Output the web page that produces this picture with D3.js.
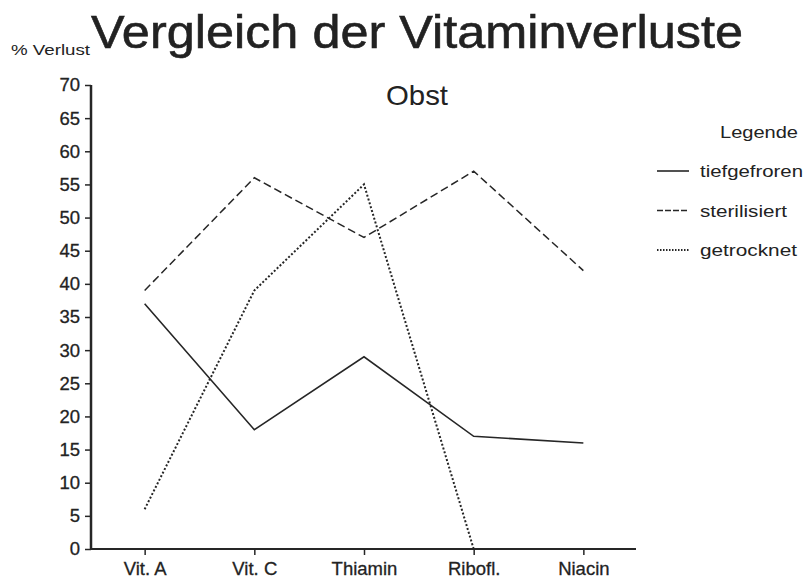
<!DOCTYPE html>
<html><head><meta charset="utf-8">
<script src="https://cdn.jsdelivr.net/npm/d3@7"></script>
<style>body{margin:0;background:#fff}svg{display:block}text{font-family:"Liberation Sans",Arial,sans-serif;fill:#222}</style>
</head><body>
<svg id="c" width="806" height="580"></svg>
<script>
const categories = ["Vit. A","Vit. C","Thiamin","Ribofl.","Niacin"];
const tiefgefroren = [37,18,29,17,16];
const sterilisiert = [39,56,47,57,42];
const getrocknet = [6,39,55,0,null];
const yTicks = [0,5,10,15,20,25,30,35,40,45,50,55,60,65,70];
const seriesNames = ["tiefgefroren","sterilisiert","getrocknet"];

const svg = d3.select("#c");
const ink = "#262626";
const FONT = "Liberation Sans, Arial, sans-serif";
const x = d3.scalePoint().domain(categories).range([92,636]).padding(0.48);
const y = d3.scaleLinear().domain([0,70]).range([549,85]);

svg.append("text").attr("x",11).attr("y",55).attr("font-size",14).attr("textLength",79).attr("lengthAdjust","spacingAndGlyphs").text("% Verlust");
svg.append("text").attr("x",91).attr("y",48).attr("font-size",47).attr("fill","#3a3a3a").attr("stroke","#222").attr("stroke-width",0.6)
  .attr("textLength",652).attr("lengthAdjust","spacingAndGlyphs").text("Vergleich der Vitaminverluste");
svg.append("text").attr("x",386).attr("y",105).attr("font-size",28).attr("textLength",62).attr("lengthAdjust","spacingAndGlyphs").text("Obst");

const yAxis = svg.append("g").attr("transform","translate(91,0)")
  .call(d3.axisLeft(y).tickValues(yTicks).tickSize(6).tickPadding(5));
yAxis.select(".domain").attr("stroke",ink).attr("stroke-width",2.5).attr("d","M0,85V549");
yAxis.selectAll(".tick line").attr("stroke",ink).attr("stroke-width",1.5);
yAxis.selectAll(".tick text").attr("font-size",18.5).attr("font-family",FONT).attr("fill",ink).attr("stroke",ink).attr("stroke-width",0.3);

const xAxis = svg.append("g").attr("transform","translate(0,549)")
  .call(d3.axisBottom(x).tickSize(6).tickPadding(7));
xAxis.select(".domain").attr("stroke",ink).attr("stroke-width",2).attr("d","M91,0H636");
xAxis.selectAll(".tick line").attr("stroke",ink).attr("stroke-width",1.5);
xAxis.selectAll(".tick text").attr("font-size",18.5).attr("font-family",FONT).attr("fill",ink).attr("stroke",ink).attr("stroke-width",0.3);

const dashes = {tiefgefroren:null, sterilisiert:"8,4", getrocknet:"2,2"};
const widths = {tiefgefroren:1.6, sterilisiert:1.5, getrocknet:2};
const data = {tiefgefroren, sterilisiert, getrocknet};
const line = d3.line().defined(d=>d.v!=null).x(d=>x(d.c)).y(d=>y(d.v));
seriesNames.forEach(n=>{
  svg.append("path").datum(categories.map((c,i)=>({c,v:data[n][i]})))
    .attr("d",line).attr("fill","none").attr("stroke",ink)
    .attr("stroke-width",widths[n]).attr("stroke-dasharray",dashes[n]);
});

svg.append("text").attr("x",720).attr("y",138).attr("font-size",16).attr("textLength",78).attr("lengthAdjust","spacingAndGlyphs").text("Legende");
const legW = [103,87,97];
seriesNames.forEach((n,i)=>{
  const yy = 171 + i*39.5;
  svg.append("line").attr("x1",657).attr("x2",689).attr("y1",yy).attr("y2",yy)
    .attr("stroke",ink).attr("stroke-width",widths[n]).attr("stroke-dasharray",dashes[n]?(n==="sterilisiert"?"6,2":"1.5,1.5"):null);
  svg.append("text").attr("x",700).attr("y",yy+6).attr("font-size",16).attr("textLength",legW[i]).attr("lengthAdjust","spacingAndGlyphs").text(n);
});
</script>
</body></html>
